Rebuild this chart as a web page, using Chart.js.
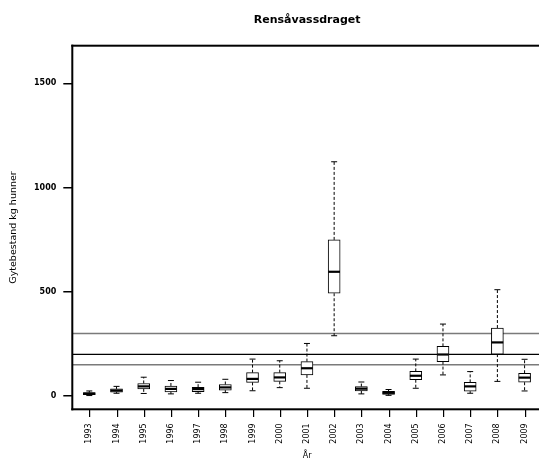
<!DOCTYPE html>
<html>
<head>
<meta charset="utf-8">
<script src="https://cdn.jsdelivr.net/npm/chart.js@4.4.1/dist/chart.umd.min.js"></script>
<style>
  html,body{margin:0;padding:0;background:#fff;overflow:hidden;}
  canvas{display:block;}
</style>
</head>
<body>
<canvas id="chart" width="614" height="462"></canvas>
<script>
// years on the x axis
const years = ['1993','1994','1995','1996','1997','1998','1999','2000','2001','2002','2003','2004','2005','2006','2007','2008','2009'];
// boxplot stats per year (kg hunner)
const whiskLo = [2, 13, 12, 10, 13, 16, 25, 40, 37, 289, 10, 3, 37, 101, 13, 70, 24];
const q1      = [6, 18, 34, 20, 21, 28, 65, 70, 101, 493, 24, 8, 78, 165, 23, 201, 66];
const median  = [11, 26, 46, 34, 33, 41, 82, 89, 133, 596, 35, 15, 97, 199, 46, 257, 88];
const q3      = [16, 34, 60, 48, 42, 55, 112, 112, 165, 749, 45, 22, 118, 238, 65, 326, 109];
const whiskHi = [24, 46, 90, 74, 66, 80, 177, 169, 252, 1124, 67, 31, 177, 345, 117, 510, 176];
// horizontal reference lines
const greyLines = [150, 300];
const blackLines = [200];
const yTicks = [0, 500, 1000, 1500];

const FONT = "'DejaVu Sans', sans-serif";

const boxData = years.map((y,i)=>({x:i+1, y:[q1[i], q3[i]]}));

const boxPlugin = {
  id:'boxExtras',
  beforeDatasetsDraw(chart){
    const {ctx, chartArea:a, scales:{y}} = chart;
    ctx.save();
    const hline = (v,col,w)=>{
      const py = y.getPixelForValue(v);
      ctx.strokeStyle=col; ctx.lineWidth=w;
      ctx.beginPath(); ctx.moveTo(a.left,py); ctx.lineTo(a.right,py); ctx.stroke();
    };
    greyLines.forEach(v=>hline(v,'#7a7a7a',1.6));
    blackLines.forEach(v=>hline(v,'#000',1.2));
    ctx.restore();
  },
  afterDatasetsDraw(chart){
    const {ctx, chartArea:a, scales:{x,y}} = chart;
    const halfBox = 0.215, halfCap = 0.11;
    ctx.save();
    ctx.strokeStyle='#000';
    years.forEach((_,i)=>{
      const cx = x.getPixelForValue(i+1);
      const capW = x.getPixelForValue(i+1+halfCap)-cx;
      const boxW = x.getPixelForValue(i+1+halfBox)-cx;
      // whiskers
      ctx.lineWidth=1; ctx.setLineDash([3,2]);
      ctx.beginPath();
      ctx.moveTo(cx, y.getPixelForValue(q3[i])); ctx.lineTo(cx, y.getPixelForValue(whiskHi[i]));
      ctx.moveTo(cx, y.getPixelForValue(q1[i])); ctx.lineTo(cx, y.getPixelForValue(whiskLo[i]));
      ctx.stroke();
      ctx.setLineDash([]);
      // caps
      ctx.beginPath();
      [whiskHi[i], whiskLo[i]].forEach(v=>{
        const py = y.getPixelForValue(v);
        ctx.moveTo(cx-capW, py); ctx.lineTo(cx+capW, py);
      });
      ctx.stroke();
      // median
      ctx.lineWidth=2.2;
      const pm = y.getPixelForValue(median[i]);
      ctx.beginPath(); ctx.moveTo(cx-boxW, pm); ctx.lineTo(cx+boxW, pm); ctx.stroke();
    });
    // frame (right side lies outside the window)
    ctx.fillStyle='#000';
    ctx.fillRect(a.left-1, a.top-1, a.right-a.left+2, 2);
    ctx.fillRect(a.left-1, a.bottom-1, a.right-a.left+2, 2);
    ctx.fillRect(a.left-1, a.top-1, 2, a.bottom-a.top+2);
    // x tick marks
    years.forEach((_,i)=>{
      const px = Math.round(x.getPixelForValue(i+1));
      ctx.fillRect(px, Math.round(a.bottom)+1, 1.2, 7);
    });
    ctx.restore();
  }
};

new Chart(document.getElementById('chart'), {
  type:'bar',
  data:{
    datasets:[{
      data: boxData,
      backgroundColor:'#fff',
      borderColor:'#000',
      borderWidth:1,
      borderSkipped:false,
      barThickness:12
    }]
  },
  options:{
    responsive:false,
    animation:false,
    layout:{padding:{left:0,right:72,top:0,bottom:0}},
    plugins:{
      legend:{display:false},
      tooltip:{enabled:false},
      title:{display:true,fullSize:false,text:'Rensåvassdraget',color:'#000',
        font:{family:FONT,size:11,weight:'bold'},padding:{top:14,bottom:18.5}}
    },
    scales:{
      x:{
        type:'linear', min:0.375, max:17.64, offset:false,
        afterBuildTicks(s){ s.ticks = years.map((_,i)=>({value:i+1})); },
        afterFit(s){ s.height = 52.7; },
        ticks:{color:'#000',font:{family:FONT,size:8},minRotation:90,maxRotation:90,padding:6,
          callback:(v)=>years[Math.round(v)-1]},
        grid:{display:false},
        border:{display:false},
        title:{display:true,text:'År',color:'#000',font:{family:FONT,size:8},padding:{top:0,bottom:1.5}}
      },
      y:{
        min:-64, max:1681,
        afterBuildTicks(s){ s.ticks = yTicks.map(v=>({value:v})); },
        afterFit(s){ s.width = 72.3; },
        ticks:{color:'#000',font:{family:FONT,size:8,weight:'bold'},padding:7,callback:(v)=>String(v)},
        grid:{display:true,drawOnChartArea:false,drawTicks:true,tickLength:9,color:'#000',lineWidth:1.5},
        border:{display:false},
        title:{display:true,text:'Gytebestand kg hunner',color:'#000',font:{family:FONT,size:9.5},padding:{top:8.3,bottom:0}}
      }
    }
  },
  plugins:[boxPlugin]
});
</script>
</body>
</html>
